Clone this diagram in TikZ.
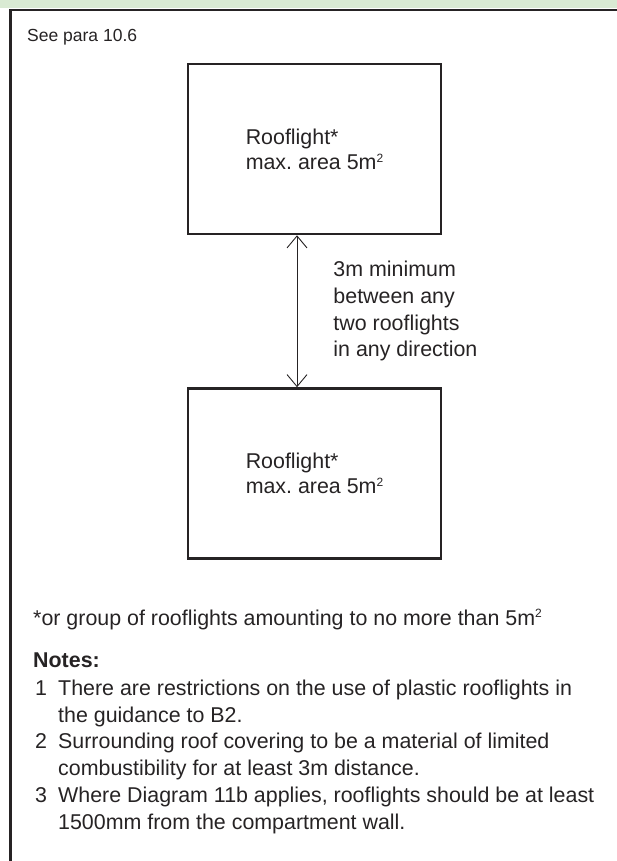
\documentclass[tikz,border=0pt]{standalone}
\usepackage{fontspec}
\setmainfont{Liberation Sans}
\usetikzlibrary{arrows.meta}
\definecolor{bandgreen}{RGB}{217,234,211}
\definecolor{inkgray}{RGB}{38,35,36}
\newcommand{\sqsup}{\raisebox{0.62ex}{\fontsize{12}{12}\selectfont 2}}
\frenchspacing

\begin{document}
\begin{tikzpicture}[x=1pt, y=-1pt,
    bodytext/.style={font=\fontsize{21.4}{26.6}\selectfont, text=inkgray, inner sep=0pt, align=left},
    roofbox/.style={draw=inkgray, line width=2.5pt, minimum width=253pt, minimum height=170pt,
        font=\fontsize{21.4}{25}\selectfont, text=inkgray, align=left},
    gaparrow/.style={draw=inkgray, line width=0.9pt,
        {Straight Barb[length=12pt,width=20pt]}-{Straight Barb[length=12pt,width=20pt]}}]
    \useasboundingbox (0,0) rectangle (617,861);
    % header band and frame
    \fill[bandgreen] (0,0) rectangle (617,8.5);
    \draw[inkgray, line width=2.8pt] (617,10) -- (10.5,10) -- (10.5,861);
    \node[bodytext, font=\fontsize{17.5}{21}\selectfont, anchor=base west] (seepara) at (27,42) {See para 10.6};
    % the two rooflights
    \node[roofbox] (upper) at (314.5,149) {Rooflight*\\max. area 5m\sqsup};
    \node[roofbox] (lower) at (314.5,473.5) {Rooflight*\\max. area 5m\sqsup};
    \draw[gaparrow] ([xshift=-17.5pt]upper.south) -- ([xshift=-17.5pt]lower.north)
        node[bodytext, midway, anchor=west, xshift=36pt] (gap) {3m minimum\\between any\\two rooflights\\in any direction};
    % footnote and notes
    \node[bodytext, anchor=base west] (footnote) at (33,625) {*or group of rooflights amounting to no more than 5m\sqsup};
    \node[bodytext, font=\fontsize{21.4}{26.6}\selectfont\bfseries, anchor=base west] (notes) at (33,667) {Notes:};
    \node[bodytext, anchor=base west] (note1) at (35,722) {\makebox[23pt][l]{1}There are restrictions on the use of plastic rooflights in\\\hspace*{23pt}the guidance to B2.};
    \node[bodytext, anchor=base west] (note2) at (35,775) {\makebox[23pt][l]{2}Surrounding roof covering to be a material of limited\\\hspace*{23pt}combustibility for at least 3m distance.};
    \node[bodytext, anchor=base west] (note3) at (35,829) {\makebox[23pt][l]{3}Where Diagram 11b applies, rooflights should be at least\\\hspace*{23pt}1500mm from the compartment wall.};
\end{tikzpicture}
\end{document}
